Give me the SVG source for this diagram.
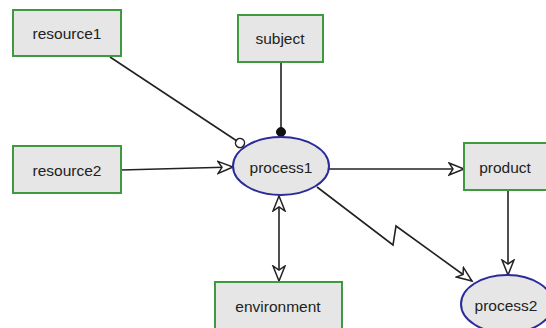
<svg xmlns="http://www.w3.org/2000/svg" width="546" height="328" viewBox="0 0 546 328">
  <style>
    .box { fill: #e6e6e6; stroke: #3f9a3f; stroke-width: 2; }
    .proc { fill: #e6e6e6; stroke: #2b2b9a; stroke-width: 2; }
    .lbl { font-family: "Liberation Sans", Arial, sans-serif; font-size: 15.5px; fill: #222; text-anchor: middle; dominant-baseline: central; }
    .edge { fill: none; stroke: #222; stroke-width: 1.6; }
  </style>
  <defs>
    <marker id="open-arrow" markerUnits="userSpaceOnUse" markerWidth="20" markerHeight="16" refX="16" refY="7" orient="auto-start-reverse">
      <path d="M1,1 L16,7 L1,13 L5,7 Z" fill="#fff" stroke="#222" stroke-width="1.5" stroke-linejoin="miter"/>
    </marker>
    <marker id="dot-open" markerUnits="userSpaceOnUse" markerWidth="12" markerHeight="12" refX="6" refY="6" orient="auto">
      <circle cx="6" cy="6" r="4.5" fill="#fff" stroke="#222" stroke-width="1.5"/>
    </marker>
    <marker id="dot-filled" markerUnits="userSpaceOnUse" markerWidth="12" markerHeight="12" refX="6" refY="6" orient="auto">
      <circle cx="6" cy="6" r="4.5" fill="#111" stroke="#111" stroke-width="1"/>
    </marker>
  </defs>

  <g id="connectors">
    <path class="edge" d="M110,57 L240,143" marker-end="url(#dot-open)"/>
    <path class="edge" d="M281,62 L281,132" marker-end="url(#dot-filled)"/>
    <path class="edge" d="M121,170 L233,167" marker-end="url(#open-arrow)"/>
    <path class="edge" d="M329,169 L464,169" marker-end="url(#open-arrow)"/>
    <path class="edge" d="M279,196 L279,281" marker-start="url(#open-arrow)" marker-end="url(#open-arrow)"/>
    <path class="edge" d="M317,187 L393,245 L396,226 L472,281" marker-end="url(#open-arrow)"/>
    <path class="edge" d="M508,190 L508,275" marker-end="url(#open-arrow)"/>
  </g>

  <g id="resource1">
    <rect class="box" x="13" y="10" width="108" height="46"/>
    <text class="lbl" x="67" y="33">resource1</text>
  </g>
  <g id="subject">
    <rect class="box" x="238" y="15" width="85" height="47"/>
    <text class="lbl" x="280" y="38">subject</text>
  </g>
  <g id="resource2">
    <rect class="box" x="13" y="146" width="108" height="47"/>
    <text class="lbl" x="67" y="170">resource2</text>
  </g>
  <g id="process1">
    <ellipse class="proc" cx="281" cy="166" rx="48" ry="29"/>
    <text class="lbl" x="281" y="167">process1</text>
  </g>
  <g id="product">
    <rect class="box" x="464" y="143" width="84" height="47"/>
    <text class="lbl" x="505" y="167">product</text>
  </g>
  <g id="environment">
    <rect class="box" x="215" y="282" width="127" height="50"/>
    <text class="lbl" x="278" y="306">environment</text>
  </g>
  <g id="process2">
    <ellipse class="proc" cx="507" cy="304" rx="46" ry="29"/>
    <text class="lbl" x="506" y="305">process2</text>
  </g>
</svg>
